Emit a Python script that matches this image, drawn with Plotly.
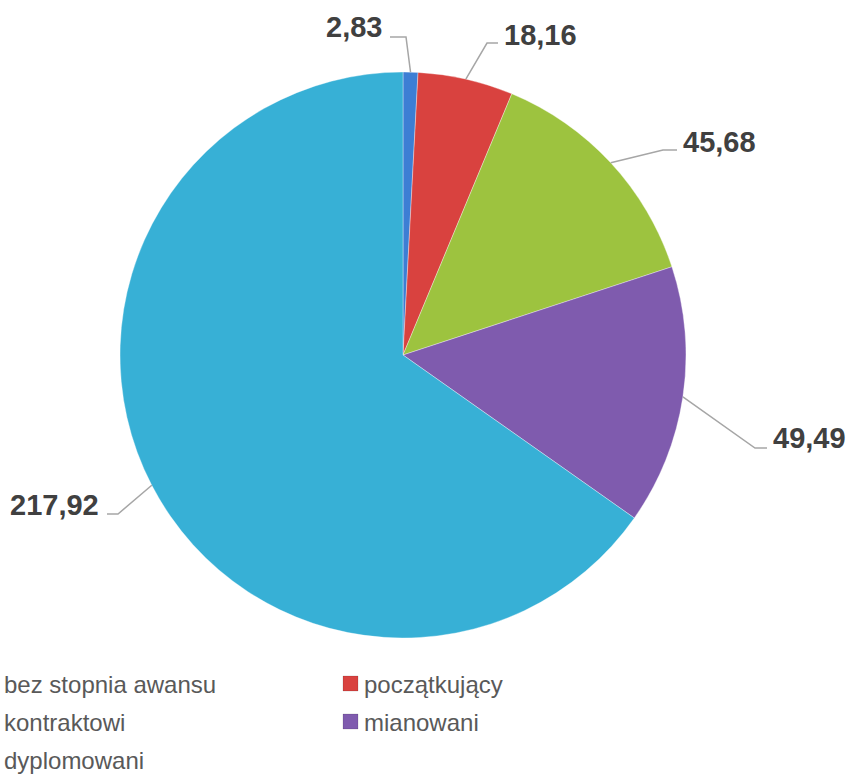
import math
import plotly.graph_objects as go

# ---- data ----
labels = ["bez stopnia awansu", "początkujący", "kontraktowi", "mianowani", "dyplomowani"]
values = [2.83, 18.16, 45.68, 49.49, 217.92]
value_text = ["2,83", "18,16", "45,68", "49,49", "217,92"]
colors = ["#3D7ED4", "#D9423F", "#9DC33F", "#7F5BAE", "#37B0D6"]

W, H = 850, 776
CX, CY, R = 403, 355, 283

def px(x):
    return x / W

def py(y):
    return 1 - y / H

fig = go.Figure(go.Pie(
    labels=labels, values=values, sort=False, direction="clockwise", rotation=0,
    marker=dict(colors=colors, line=dict(color="rgba(255,255,255,0.35)", width=1)),
    textinfo="none", hoverinfo="label+value", showlegend=False,
    domain=dict(x=[px(CX - R), px(CX + R)], y=[py(CY + R), py(CY - R)]),
))

# label layout: (elbow x, elbow y), (horizontal end x), text anchor x, text y, xanchor
label_layout = [
    ((406, 37), 390, 384, 27, "right"),
    ((487, 43), 498, 502, 35, "left"),
    ((663, 150), 677, 681, 142, "left"),
    ((755, 448), 767, 771, 438, "left"),
    ((118, 514), 107, 101, 505, "right"),
]

total = sum(values)
cum = 0.0
shapes = []
annotations = []
for v, t, lay in zip(values, value_text, label_layout):
    mid = (cum + v / 2) / total * 2 * math.pi
    cum += v
    sx = CX + R * math.sin(mid)
    sy = CY - R * math.cos(mid)
    (ex, ey), hx, tx, ty, xa = lay
    shapes.append(dict(
        type="path", xref="paper", yref="paper",
        path=f"M {px(sx)},{py(sy)} L {px(ex)},{py(ey)} L {px(hx)},{py(ey)}",
        line=dict(color="#A6A6A6", width=1.5),
    ))
    annotations.append(dict(
        x=px(tx), y=py(ty), xref="paper", yref="paper", text=f"<b>{t}</b>",
        showarrow=False, xanchor=xa, yanchor="middle",
        font=dict(family="Liberation Sans, Arial", size=29, color="#404040"),
    ))

# manual legend (left column swatches fall outside the picture)
leg_rows = [684, 684, 722, 722, 760]
leg_cols = [2, 362, 2, 362, 2]
for i, (name, col) in enumerate(zip(labels, colors)):
    x0 = leg_cols[i]
    y0 = leg_rows[i]
    annotations.append(dict(
        x=px(x0), y=py(y0), xref="paper", yref="paper", text=name,
        showarrow=False, xanchor="left", yanchor="middle",
        font=dict(family="Liberation Sans, Arial", size=24, color="#595959"),
    ))
    sw_x = x0 - 19
    shapes.append(dict(
        type="rect", xref="paper", yref="paper",
        x0=px(sw_x), x1=px(sw_x + 15), y0=py(y0 + 7), y1=py(y0 - 8),
        fillcolor=col, line=dict(color="rgba(0,0,0,0.25)", width=0.5),
    ))

fig.update_layout(
    width=W, height=H,
    margin=dict(l=0, r=0, t=0, b=0),
    paper_bgcolor="white", plot_bgcolor="white",
    shapes=shapes, annotations=annotations,
)

fig.write_html(
    "out.html",
    config={"displayModeBar": False},
    post_script="document.body.style.margin='0';document.body.style.overflow='hidden';",
)
